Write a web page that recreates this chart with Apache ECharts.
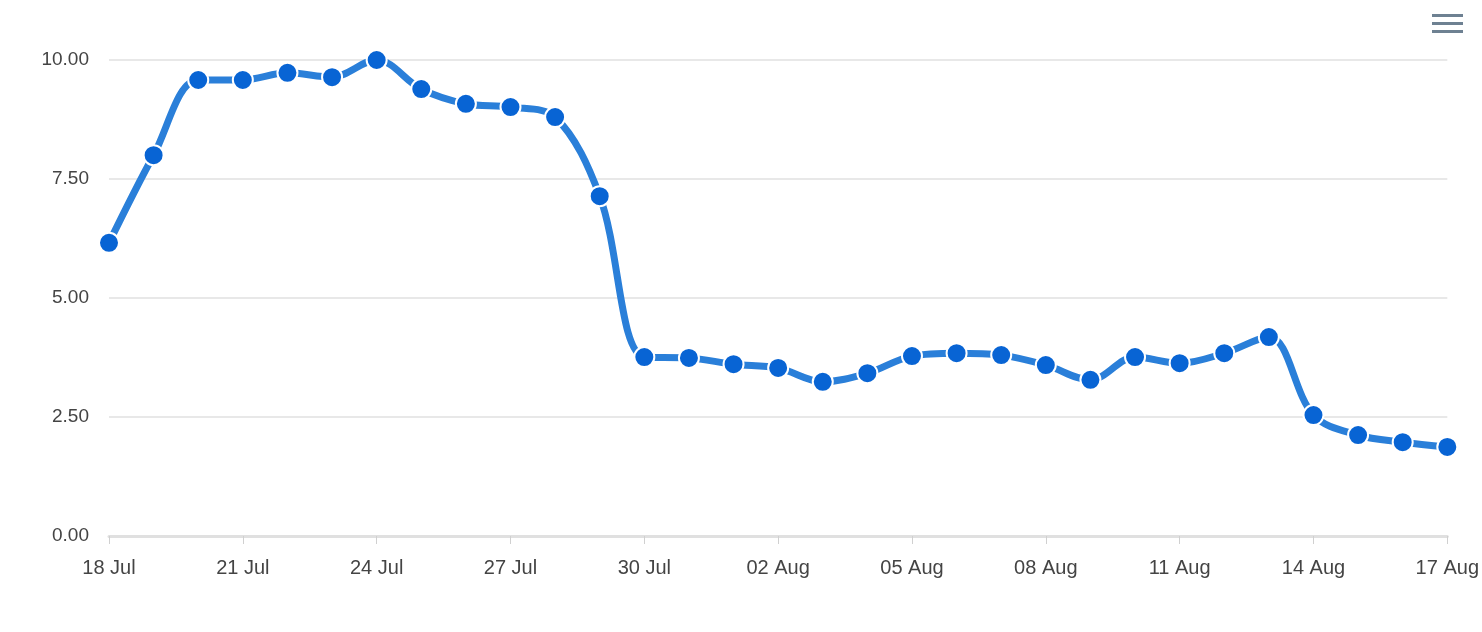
<!DOCTYPE html>
<html><head><meta charset="utf-8">
<script src="https://cdn.jsdelivr.net/npm/echarts@6/dist/echarts.min.js"></script>
<style>html,body{margin:0;padding:0;background:#fff}#c{width:1482px;height:632px}</style>
</head><body><div id="c"></div>
<script>
const categories = ['18 Jul','19 Jul','20 Jul','21 Jul','22 Jul','23 Jul','24 Jul','25 Jul','26 Jul','27 Jul','28 Jul','29 Jul','30 Jul','31 Jul','01 Aug','02 Aug','03 Aug','04 Aug','05 Aug','06 Aug','07 Aug','08 Aug','09 Aug','10 Aug','11 Aug','12 Aug','13 Aug','14 Aug','15 Aug','16 Aug','17 Aug'];
const values = [6.16,8.0,9.58,9.58,9.73,9.64,10.0,9.39,9.08,9.01,8.80,7.14,3.76,3.74,3.61,3.53,3.24,3.42,3.78,3.84,3.80,3.59,3.28,3.76,3.63,3.84,4.18,2.54,2.12,1.97,1.87];
const chart = echarts.init(document.getElementById('c'));
chart.setOption({
  animation:false,
  grid:{left:109,right:20,top:60,bottom:96},
  xAxis:{type:'category',data:categories,boundaryGap:false,
    axisLine:{lineStyle:{color:'#e0e0e0',width:3}},
    axisTick:{show:true,interval:2,length:8,lineStyle:{color:'#d0d0d0'}},
    axisLabel:{interval:2,color:'#444',fontSize:20,margin:22,fontFamily:'Liberation Sans'}},
  yAxis:{type:'value',min:0,max:10,interval:2.5,
    axisLabel:{formatter:v=>v.toFixed(2),color:'#444',fontSize:19,margin:20,fontFamily:'Liberation Sans'},
    splitLine:{lineStyle:{color:'#e0e0e0',width:1.5}}},
  graphic:[
    {type:'rect',shape:{x:1432,y:14,width:31,height:3},style:{fill:'#6e8192'}},
    {type:'rect',shape:{x:1432,y:22,width:31,height:3},style:{fill:'#6e8192'}},
    {type:'rect',shape:{x:1432,y:30,width:31,height:3},style:{fill:'#6e8192'}}
  ],
  series:[{type:'line',data:values,smooth:0.35,
    lineStyle:{color:'#2a7fd9',width:7},
    symbol:'circle',symbolSize:20,
    itemStyle:{color:'#0864d4',borderColor:'#fff',borderWidth:2}}]
});
</script></body></html>
